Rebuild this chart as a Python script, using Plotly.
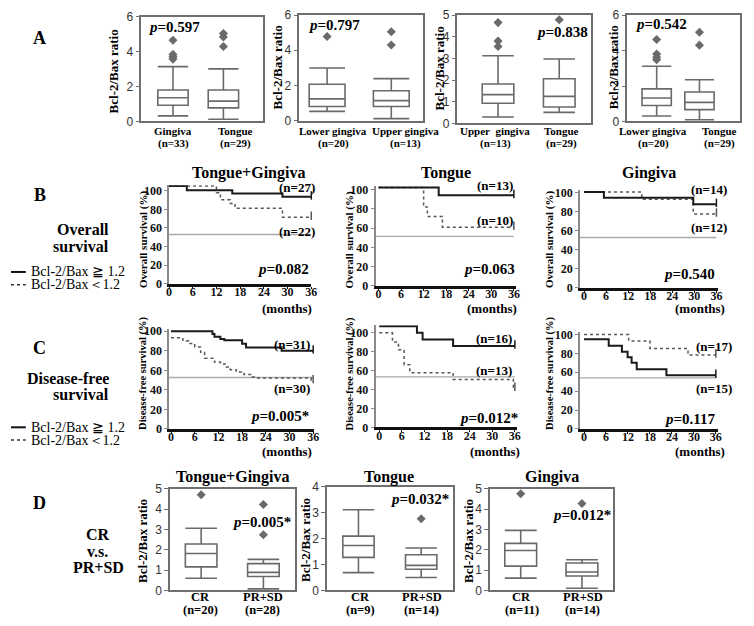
import plotly.graph_objects as go

# page is 754x626; the browser's default 8px body margin surrounds the figure
PAGE_W, PAGE_H = 754, 626
OFF = 8
W, H = PAGE_W - 2 * OFF, PAGE_H - 2 * OFF
SERIF = "Liberation Serif, Times New Roman, serif"
SANS = "Liberation Sans, Arial, sans-serif"

# ---------------- Panel A : box plot data ----------------
a1_names = ["Gingiva", "Tongue"]
a1_n = [33, 29]
a1_lo = [0.32, 0.13]
a1_q1 = [0.93, 0.78]
a1_med = [1.36, 1.17]
a1_q3 = [1.81, 1.81]
a1_hi = [3.15, 3.02]
a1_out = [[4.66, 3.85, 3.72, 3.58], [5.05, 4.85, 4.3]]
a1_p = "0.597"

a2_names = ["Lower gingiva", "Upper gingiva"]
a2_n = [20, 13]
a2_lo = [0.52, 0.11]
a2_q1 = [0.80, 0.80]
a2_med = [1.23, 1.13]
a2_q3 = [2.06, 1.69]
a2_hi = [2.99, 2.38]
a2_out = [[4.78], [5.05, 4.29]]
a2_p = "0.797"

a3_names = ["Upper&nbsp;&nbsp;gingiva", "Tongue"]
a3_n = [13, 29]
a3_lo = [0.30, 0.51]
a3_q1 = [0.93, 0.76]
a3_med = [1.33, 1.25]
a3_q3 = [1.82, 2.06]
a3_hi = [3.12, 2.97]
a3_out = [[4.65, 3.80, 3.55], [4.78]]
a3_p = "0.838"

a4_names = ["Lower gingiva", "Tongue"]
a4_n = [20, 29]
a4_lo = [0.31, 0.10]
a4_q1 = [0.90, 0.67]
a4_med = [1.32, 1.08]
a4_q3 = [1.84, 1.66]
a4_hi = [3.11, 2.35]
a4_out = [[4.62, 3.80, 3.62, 3.48], [5.03, 4.30]]
a4_p = "0.542"

# ---------------- Panel D : box plot data ----------------
d_names = ["CR", "PR+SD"]
d1_n = [20, 28]
d1_lo = [0.60, 0.08]
d1_q1 = [1.16, 0.69]
d1_med = [1.82, 0.89]
d1_q3 = [2.29, 1.32]
d1_hi = [3.06, 1.53]
d1_out = [[4.71], [4.23, 2.74]]
d1_p = "0.005*"

d2_n = [9, 14]
d2_lo = [0.69, 0.50]
d2_q1 = [1.28, 0.82]
d2_med = [1.74, 0.97]
d2_q3 = [2.10, 1.38]
d2_hi = [3.12, 1.64]
d2_out = [[], [2.77]]
d2_p = "0.032*"

d3_n = [11, 14]
d3_lo = [0.61, 0.11]
d3_q1 = [1.20, 0.71]
d3_med = [1.97, 0.91]
d3_q3 = [2.32, 1.35]
d3_hi = [2.96, 1.51]
d3_out = [[4.76], [4.28]]
d3_p = "0.012*"

# ---------------- Panels B & C : Kaplan-Meier data ----------------
km_titles = ["Tongue+Gingiva", "Tongue", "Gingiva"]
os_tg_hi_t = [0, 4.5, 16, 28.7, 36]
os_tg_hi_s = [105.3, 100.7, 97.2, 93.6, 93.6]
os_tg_lo_t = [0, 12, 13, 15.5, 16.7, 28.7, 36]
os_tg_lo_s = [105.3, 98, 90.5, 86.5, 81.3, 71.7, 71.7]
os_t_hi_t = [0, 16, 36]
os_t_hi_s = [102.4, 94.2, 94.2]
os_t_lo_t = [0, 12, 13, 17, 36]
os_t_lo_s = [102.4, 82, 72.2, 61, 61]
os_g_hi_t = [0, 5.4, 29.7, 36]
os_g_hi_s = [100.7, 94.8, 87.9, 87.9]
os_g_lo_t = [0, 15.7, 29.7, 36]
os_g_lo_s = [100.7, 93.1, 77.6, 77.6]
os_n = [("(n=27)", "(n=22)"), ("(n=13)", "(n=10)"), ("(n=14)", "(n=12)")]
os_p = ["0.082", "0.063", "0.540"]
os_median = [53.0, 51.5, 52.8]

dfs_tg_hi_t = [0, 10.5, 11, 12.5, 13.5, 18, 19, 28, 36]
dfs_tg_hi_s = [100, 97.3, 94.5, 92, 90.7, 87.3, 83.3, 80, 80]
dfs_tg_lo_t = [0, 3, 4.5, 6, 7.5, 8.5, 11, 12.5, 14, 15, 16.5, 18.5, 20.5, 22, 35.5, 36]
dfs_tg_lo_s = [93.3, 90, 87.5, 84, 78.5, 72.3, 68.5, 66.5, 63.5, 60.7, 58.3, 55.7, 53.3, 52.3, 49.5, 49.5]
dfs_t_hi_t = [0, 10, 11.5, 19.6, 36]
dfs_t_hi_s = [106.9, 100, 93.1, 86.2, 86.2]
dfs_t_lo_t = [0, 3.5, 5.1, 6.6, 8.1, 19.6, 35.6, 36]
dfs_t_lo_s = [100, 90.3, 82, 66.2, 57.9, 50.7, 41.4, 41.4]
dfs_g_hi_t = [0, 6.75, 10.35, 11.9, 13, 14.4, 22.5, 36]
dfs_g_hi_s = [94.8, 87.9, 81.7, 75.9, 70, 63.1, 56.9, 56.9]
dfs_g_lo_t = [0, 12.2, 18, 28.4, 36]
dfs_g_lo_s = [100, 93.1, 85.2, 78.3, 78.3]
dfs_n = [("(n=31)", "(n=30)"), ("(n=16)", "(n=13)"), ("(n=17)", "(n=15)")]
dfs_p = ["0.005*", "0.012*", "0.117"]
dfs_median = [52.7, 53.4, 54.1]

month_ticks = [0, 6, 12, 18, 24, 30, 36]
pct_ticks = [0, 20, 40, 60, 80, 100]


def px(x):
    return (x - OFF) / W


def py(y):
    return 1 - (y - OFF) / H


def clamp(v):
    return min(1.0, max(0.0, v))


fig = go.Figure()
layout = {}
annotations = []
shapes = []
axis_idx = [0]


def new_axes(xdom, ydom):
    axis_idx[0] += 1
    i = axis_idx[0]
    sfx = "" if i == 1 else str(i)
    xd = [clamp(px(xdom[0])), clamp(px(xdom[1]))]
    yd = [clamp(py(ydom[1])), clamp(py(ydom[0]))]
    return i, sfx, xd, yd


def ann(x, y, text, size, xanchor="center", yanchor="middle", font=SERIF, angle=0, color="black"):
    annotations.append(dict(x=px(x), y=py(y), xref="paper", yref="paper", text=text,
                            showarrow=False, xanchor=xanchor, yanchor=yanchor, textangle=angle,
                            font=dict(family=font, size=size, color=color)))


BOXC = "#6a6a6a"


def box_panel(xdom, ydom, yrange, yticks, pos, bw, names, ns, lo, q1, med, q3, hi, outs,
              lab_x, lab_y, lab_size):
    i, sfx, xd, yd = new_axes(xdom, ydom)
    for k in range(len(pos)):
        fig.add_trace(go.Box(x=[pos[k]], q1=[q1[k]], median=[med[k]], q3=[q3[k]],
                             lowerfence=[lo[k]], upperfence=[hi[k]], width=bw, whiskerwidth=1,
                             fillcolor="white", line=dict(color=BOXC, width=1.6),
                             boxpoints=False, hoverinfo="skip",
                             xaxis="x" + sfx, yaxis="y" + sfx))
        if outs[k]:
            fig.add_trace(go.Scatter(x=[pos[k]] * len(outs[k]), y=outs[k], mode="markers",
                                     marker=dict(symbol="diamond", size=7, color=BOXC),
                                     xaxis="x" + sfx, yaxis="y" + sfx, cliponaxis=False))
        ann(lab_x[k], lab_y[0], "<b>%s</b>" % names[k], lab_size)
        ann(lab_x[k], lab_y[1], "<b>(n=%d)</b>" % ns[k], lab_size)
    layout["xaxis" + sfx] = dict(domain=xd, range=[0, 1], anchor="y" + sfx,
                                 showticklabels=False,
                                 showline=True, mirror=True, linecolor="#6f6f6f", linewidth=1.5,
                                 ticks="", showgrid=False, zeroline=False, fixedrange=True)
    layout["yaxis" + sfx] = dict(domain=yd, range=yrange, anchor="x" + sfx, tickvals=yticks,
                                 tickfont=dict(family=SANS, size=12, color="#333"),
                                 showline=True, mirror=True, linecolor="#6f6f6f", linewidth=1.5,
                                 ticks="outside", ticklen=4, tickcolor="#6f6f6f",
                                 showgrid=False, zeroline=False, fixedrange=True)


def km_panel(xdom, ydom, xrange, yrange, hi_t, hi_s, lo_t, lo_s, med):
    i, sfx, xd, yd = new_axes(xdom, ydom)
    fig.add_trace(go.Scatter(x=[xrange[0], 36], y=[med, med], mode="lines",
                             line=dict(color="#aaaaaa", width=1.3),
                             xaxis="x" + sfx, yaxis="y" + sfx, cliponaxis=False))
    fig.add_trace(go.Scatter(x=lo_t, y=lo_s, mode="lines", line_shape="hv",
                             line=dict(color="#555555", width=1.5, dash="dot"),
                             xaxis="x" + sfx, yaxis="y" + sfx, cliponaxis=False))
    fig.add_trace(go.Scatter(x=hi_t, y=hi_s, mode="lines", line_shape="hv",
                             line=dict(color="#1a1a1a", width=2),
                             xaxis="x" + sfx, yaxis="y" + sfx, cliponaxis=False))
    for tt, ss, col in [(hi_t, hi_s, "#1a1a1a"), (lo_t, lo_s, "#555555")]:
        fig.add_trace(go.Scatter(x=[tt[-1]], y=[ss[-1] + 1.5], mode="markers",
                                 marker=dict(symbol="line-ns-open", size=6, color=col,
                                             line=dict(color=col, width=1.5)),
                                 xaxis="x" + sfx, yaxis="y" + sfx, cliponaxis=False))
    layout["xaxis" + sfx] = dict(domain=xd, range=xrange, anchor="y" + sfx, tickvals=month_ticks,
                                 ticktext=["<b>%d</b>" % t for t in month_ticks],
                                 tickfont=dict(family=SERIF, size=12, color="#111"),
                                 ticklabelstandoff=-7,
                                 showline=True, linecolor="#111", linewidth=3,
                                 ticks="outside", ticklen=2, tickcolor="#111",
                                 showgrid=False, zeroline=False, fixedrange=True)
    layout["yaxis" + sfx] = dict(domain=yd, range=yrange, anchor="x" + sfx, tickvals=pct_ticks,
                                 ticktext=["<b>%d</b>" % t for t in pct_ticks],
                                 tickfont=dict(family=SERIF, size=12, color="#111"),
                                 showline=True, linecolor="#8a8a8a", linewidth=1.5,
                                 ticks="outside", ticklen=3, tickcolor="#8a8a8a",
                                 showgrid=False, zeroline=False, fixedrange=True)


# ---------------- Row A ----------------
A_LAB = (127, 140)
box_panel([140, 263], [10, 117], [0, 6], [0, 2, 4, 6], [0.26, 0.675], 0.25,
          a1_names, a1_n, a1_lo, a1_q1, a1_med, a1_q3, a1_hi, a1_out,
          [172, 235], A_LAB, 11)
box_panel([300, 425], [8, 116], [0, 6], [0, 2, 4, 6], [0.224, 0.744], 0.29,
          a2_names, a2_n, a2_lo, a2_q1, a2_med, a2_q3, a2_hi, a2_out,
          [334, 407], A_LAB, 11)
box_panel([460, 595], [8, 119], [0, 5], [0, 1, 2, 3, 4, 5], [0.304, 0.763], 0.237,
          a3_names, a3_n, a3_lo, a3_q1, a3_med, a3_q3, a3_hi, a3_out,
          [498, 565], A_LAB, 11)
box_panel([632, 746], [8, 117], [0, 6], [0, 2, 4, 6], [0.26, 0.64], 0.26,
          a4_names, a4_n, a4_lo, a4_q1, a4_med, a4_q3, a4_hi, a4_out,
          [658, 725], A_LAB, 11)

# ---------------- Row B ----------------
km_panel([168, 312], [182.3, 283], [0, 36], [0, 106],
         os_tg_hi_t, os_tg_hi_s, os_tg_lo_t, os_tg_lo_s, os_median[0])
km_panel([377, 519], [183, 285], [-0.8, 36.5], [0, 104],
         os_t_hi_t, os_t_hi_s, os_t_lo_t, os_t_lo_s, os_median[1])
km_panel([584, 724], [187, 287], [-1.1, 36.5], [0, 103],
         os_g_hi_t, os_g_hi_s, os_g_lo_t, os_g_lo_s, os_median[2])

# ---------------- Row C ----------------
km_panel([168, 314.7], [329.7, 431.7], [-0.5, 36.2], [0, 102],
         dfs_tg_hi_t, dfs_tg_hi_s, dfs_tg_lo_t, dfs_tg_lo_s, dfs_median[0])
km_panel([377, 520], [325.6, 430], [-1, 36.5], [0, 108],
         dfs_t_hi_t, dfs_t_hi_s, dfs_t_lo_t, dfs_t_lo_s, dfs_median[1])
km_panel([584, 723.4], [332, 431.7], [-1.1, 36.5], [0, 103],
         dfs_g_hi_t, dfs_g_hi_s, dfs_g_lo_t, dfs_g_lo_s, dfs_median[2])

# ---------------- Row D ----------------
D_LAB = (604, 617)
box_panel([169, 295], [493, 597], [0, 5], [0, 1, 2, 3, 4, 5], [0.25, 0.75], 0.254,
          d_names, d1_n, d1_lo, d1_q1, d1_med, d1_q3, d1_hi, d1_out,
          [200, 263], D_LAB, 12.5)
box_panel([328, 455], [491, 597], [0, 4], [0, 1, 2, 3, 4], [0.25, 0.75], 0.25,
          d_names, d2_n, d2_lo, d2_q1, d2_med, d2_q3, d2_hi, d2_out,
          [362, 424], D_LAB, 12.5)
box_panel([493, 617], [493, 597], [0, 5], [0, 1, 2, 3, 4, 5], [0.25, 0.75], 0.26,
          d_names, d3_n, d3_lo, d3_q1, d3_med, d3_q3, d3_hi, d3_out,
          [525, 587], D_LAB, 12.5)

# ---------------- Text ----------------
for letter, yy in [("A", 32), ("B", 192), ("C", 349), ("D", 507)]:
    ann(37, yy, "<b>%s</b>" % letter, 18)

for xx, yy in [(112, 66), (278, 62), (442, 63), (618, 62), (141, 546), (306, 545), (471, 546)]:
    ann(xx, yy, "<b>Bcl-2/Bax ratio</b>", 13, angle=-90)

ann(145, 20, "<b><i>p</i>=%s</b>" % a1_p, 15, xanchor="left")
ann(307, 18, "<b><i>p</i>=%s</b>" % a2_p, 15, xanchor="left")
ann(537, 25, "<b><i>p</i>=%s</b>" % a3_p, 15, xanchor="left")
ann(638, 17, "<b><i>p</i>=%s</b>" % a4_p, 15, xanchor="left")

ann(293, 527, "<b><i>p</i>=%s</b>" % d1_p, 15, xanchor="right")
ann(453, 503, "<b><i>p</i>=%s</b>" % d2_p, 15, xanchor="right")
ann(617, 520, "<b><i>p</i>=%s</b>" % d3_p, 15, xanchor="right")

for xx, t in zip([248, 448, 654], km_titles):
    ann(xx, 170, "<b>%s</b>" % t, 16)
for xx, t in zip([232, 391, 556], km_titles):
    ann(xx, 481, "<b>%s</b>" % t, 16)

for xx in [142, 351, 553]:
    ann(xx, 238, "<b>Overall survival (%)</b>", 11, angle=-90)
for xx in [141, 351, 553]:
    ann(xx, 375, "<b>Disease-free survival (%)</b>", 10.5, angle=-90)

for xx, yy, p in zip([312, 520, 723], [268, 268, 273], os_p):
    ann(xx, yy, "<b><i>p</i>=%s</b>" % p, 15, xanchor="right")
for xx, yy, p in zip([312, 523, 723], [418, 420, 422], dfs_p):
    ann(xx, yy, "<b><i>p</i>=%s</b>" % p, 15, xanchor="right")

for xx, (y1, y2), (n1, n2) in zip([318, 518, 735], [(185, 230), (182, 218), (187, 225)], os_n):
    ann(xx, y1, "<b>%s</b>" % n1, 13, xanchor="right")
    ann(xx, y2, "<b>%s</b>" % n2, 13, xanchor="right")
for xx, (y1, y2), (n1, n2) in zip([313, 517, 740], [(345, 390), (339, 372), (347, 390)], dfs_n):
    ann(xx, y1, "<b>%s</b>" % n1, 13, xanchor="right")
    ann(xx, y2, "<b>%s</b>" % n2, 13, xanchor="right")

for xx in [315, 522, 733]:
    ann(xx, 308, "<b>(months)</b>", 13, xanchor="right")
for xx in [315, 525, 733]:
    ann(xx, 455, "<b>(months)</b>", 13, xanchor="right")

ann(109, 228, "<b>Overall</b>", 16, xanchor="right")
ann(109, 245, "<b>survival</b>", 16, xanchor="right")
ann(109, 380, "<b>Disease-free</b>", 16, xanchor="right")
ann(109, 396, "<b>survival</b>", 16, xanchor="right")
ann(96, 540, "<b>CR</b>", 16)
ann(96, 557, "<b>v.s.</b>", 16)
ann(97, 573, "<b>PR+SD</b>", 16)

for y1, y2 in [(271, 284), (430, 443)]:
    shapes.append(dict(type="line", xref="paper", yref="paper", x0=px(OFF), x1=px(23),
                       y0=py(y1), y1=py(y1), line=dict(color="#111", width=2)))
    shapes.append(dict(type="line", xref="paper", yref="paper", x0=px(OFF), x1=px(23),
                       y0=py(y2), y1=py(y2), line=dict(color="#333", width=1.5, dash="dot")))
    ann(26, y1, "Bcl-2/Bax ≧ 1.2", 14, xanchor="left")
    ann(26, y2, "Bcl-2/Bax＜1.2", 14, xanchor="left")

fig.update_layout(**layout)
fig.update_layout(width=W, height=H, margin=dict(l=0, r=0, t=0, b=0),
                  paper_bgcolor="white", plot_bgcolor="white", showlegend=False,
                  annotations=annotations, shapes=shapes)
fig.write_html("out.html", config={"displayModeBar": False})
